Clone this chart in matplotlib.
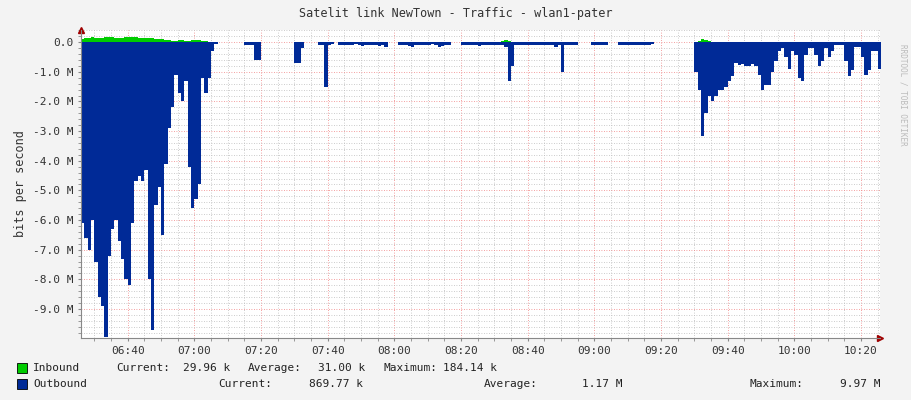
import numpy as np
import matplotlib.pyplot as plt
from matplotlib.ticker import MultipleLocator, FuncFormatter

plt.rcParams['font.family'] = 'DejaVu Sans Mono'
plt.rcParams['font.size'] = 7.5

# minutes after 06:00, one sample per minute
t_start, t_end = 26, 266

# outbound (Mbit/s, drawn negative)
out_0626 = [6.1, 6.6, 7.0, 6.0, 7.4, 8.6, 8.9, 9.95, 7.2, 6.3, 6.0, 6.7, 7.3, 8.0,
            8.2, 6.1, 4.7, 4.5, 4.7, 4.3, 8.0, 9.7, 5.5, 4.9, 6.5, 4.1, 2.9, 2.2,
            1.1, 1.7, 2.0, 1.3, 4.2, 5.6, 5.3, 4.8, 1.2, 1.7, 1.2, 0.3, 0.05]
out_0715 = [0.1, 0.1, 0.1, 0.6, 0.6]
out_0730 = [0.7, 0.7, 0.2]
out_0737 = [0.1, 0.1, 1.5, 0.1, 0.05]
out_0743 = [0.08, 0.1, 0.08, 0.1, 0.1, 0.05, 0.08, 0.12, 0.1, 0.08, 0.1, 0.1, 0.12,
            0.1, 0.15, 0.0, 0.0, 0.0, 0.08, 0.1, 0.1, 0.12, 0.15, 0.1, 0.08, 0.1,
            0.1, 0.08, 0.05, 0.1, 0.15, 0.12, 0.08, 0.1, 0.0, 0.0, 0.0, 0.08, 0.1,
            0.1, 0.08, 0.1, 0.12, 0.1, 0.1, 0.08, 0.1, 0.1, 0.1, 0.08, 0.15, 1.3,
            0.8, 0.1, 0.1, 0.08, 0.1, 0.1, 0.1, 0.08, 0.1, 0.1, 0.08, 0.1, 0.1,
            0.15, 0.1, 1.0, 0.1, 0.08, 0.1, 0.1, 0.0, 0.0, 0.0, 0.0, 0.08, 0.1,
            0.1, 0.1, 0.08, 0.0, 0.0, 0.0, 0.08, 0.1, 0.1, 0.08, 0.1, 0.1, 0.08,
            0.1, 0.08, 0.1, 0.05]
out_0930 = [1.0, 1.6, 3.15, 2.4, 1.8, 2.0, 1.8, 1.6, 1.6, 1.5, 1.3, 1.15, 0.7,
            0.78, 0.75, 0.8, 0.8, 0.75, 0.8, 1.1, 1.6, 1.45, 1.45, 1.0, 0.65, 0.3,
            0.2, 0.5, 0.9, 0.3, 0.45, 1.2, 1.3, 0.45, 0.2, 0.2, 0.45, 0.8, 0.65,
            0.2, 0.5, 0.3, 0.1, 0.1, 0.1, 0.65, 1.15, 0.95, 0.15, 0.15, 0.5, 1.1,
            0.95, 0.3, 0.3, 0.9]
out_segments = {26: out_0626, 75: out_0715, 90: out_0730, 97: out_0737,
                103: out_0743, 210: out_0930}

# inbound (Mbit/s)
in_0626 = [0.12, 0.14, 0.15, 0.16, 0.15, 0.14, 0.15, 0.16, 0.17, 0.16, 0.15, 0.14,
           0.15, 0.16, 0.18, 0.17, 0.16, 0.15, 0.14, 0.13, 0.14, 0.13, 0.12, 0.1,
           0.1, 0.08, 0.06, 0.05, 0.05, 0.06, 0.08, 0.05, 0.04, 0.06, 0.08, 0.06,
           0.04, 0.03, 0.02, 0.02, 0.01]
in_0834 = [0.03, 0.06, 0.05, 0.02]
in_0930 = [0.02, 0.04, 0.1, 0.08, 0.04, 0.02]
in_segments = {26: in_0626, 152: in_0834, 210: in_0930}

t = np.arange(t_start, t_end + 1)
outbound = np.zeros(len(t))
inbound = np.zeros(len(t))
for s, vals in out_segments.items():
    outbound[s - t_start:s - t_start + len(vals)] = vals
for s, vals in in_segments.items():
    inbound[s - t_start:s - t_start + len(vals)] = vals

fig = plt.figure(figsize=(9.11, 4.0), dpi=100, facecolor='#F3F3F3')
ax = fig.add_axes([81/911, 1 - 338/400, 799/911, 308/400])
ax.set_facecolor('white')

ax.fill_between(t, 0, -outbound, step='post', color='#002A97', lw=0)
ax.fill_between(t, 0, inbound, step='post', color='#00CC00', lw=0)

ax.set_xlim(t_start, 265.7)
ax.set_ylim(-9.98, 0.41)

ax.xaxis.set_major_locator(MultipleLocator(20))
ax.xaxis.set_minor_locator(MultipleLocator(5))
ax.yaxis.set_major_locator(MultipleLocator(1))
ax.yaxis.set_minor_locator(MultipleLocator(0.2))
ax.grid(which='minor', color='#BBBBBB', ls=(0, (1, 2)), lw=0.6)
ax.grid(which='major', color='#F08080', ls=(0, (1, 2)), lw=0.6)
ax.set_axisbelow(True)

def tfmt(v, pos):
    m = int(round(v))
    return '%02d:%02d' % (6 + m // 60, m % 60)

def yfmt(v, pos):
    return '0.0' if abs(v) < 1e-9 else '%.1f M' % v

ax.xaxis.set_major_formatter(FuncFormatter(tfmt))
ax.yaxis.set_major_formatter(FuncFormatter(yfmt))
ax.tick_params(which='both', length=2, color='#888888', labelsize=8, labelcolor='#333333')
for s in ['top', 'right']:
    ax.spines[s].set_visible(False)
for s in ['left', 'bottom']:
    ax.spines[s].set_color('#888888')
ax.plot([t_start], [0.41], marker='^', color='#A00000', ms=4, clip_on=False)
ax.plot([265.7], [-9.98], marker='>', color='#A00000', ms=4, clip_on=False)

ax.set_ylabel('bits per second', fontsize=8.5, color='#333333')
fig.text(0.5, 1 - 13/400, 'Satelit link NewTown - Traffic - wlan1-pater',
         ha='center', va='center', fontsize=8.5, color='#333333')
fig.text(903/911, 1 - 95/400, 'RRDTOOL / TOBI OETIKER', rotation=270,
         ha='center', va='center', fontsize=5.5, color='#BBBBBB')

def row(y, color, items):
    fig.patches.append(plt.Rectangle((17/911, 1 - (y + 5)/400), 10/911, 10/400,
                                     transform=fig.transFigure, fc=color, ec='black', lw=0.6))
    for x, txt, ha in items:
        fig.text(x/911, 1 - y/400, txt, ha=ha, va='center', fontsize=8, color='#222222')

row(368, '#00CC00', [(33, 'Inbound', 'left'), (116, 'Current:', 'left'), (230, '29.96 k', 'right'),
                    (248, 'Average:', 'left'), (365, '31.00 k', 'right'),
                    (384, 'Maximum:', 'left'), (497, '184.14 k', 'right')])
row(384, '#002A97', [(33, 'Outbound', 'left'), (218, 'Current:', 'left'), (363, '869.77 k', 'right'),
                    (484, 'Average:', 'left'), (623, '1.17 M', 'right'),
                    (749, 'Maximum:', 'left'), (880, '9.97 M', 'right')])

fig.savefig('out.png', dpi=100, facecolor=fig.get_facecolor())
